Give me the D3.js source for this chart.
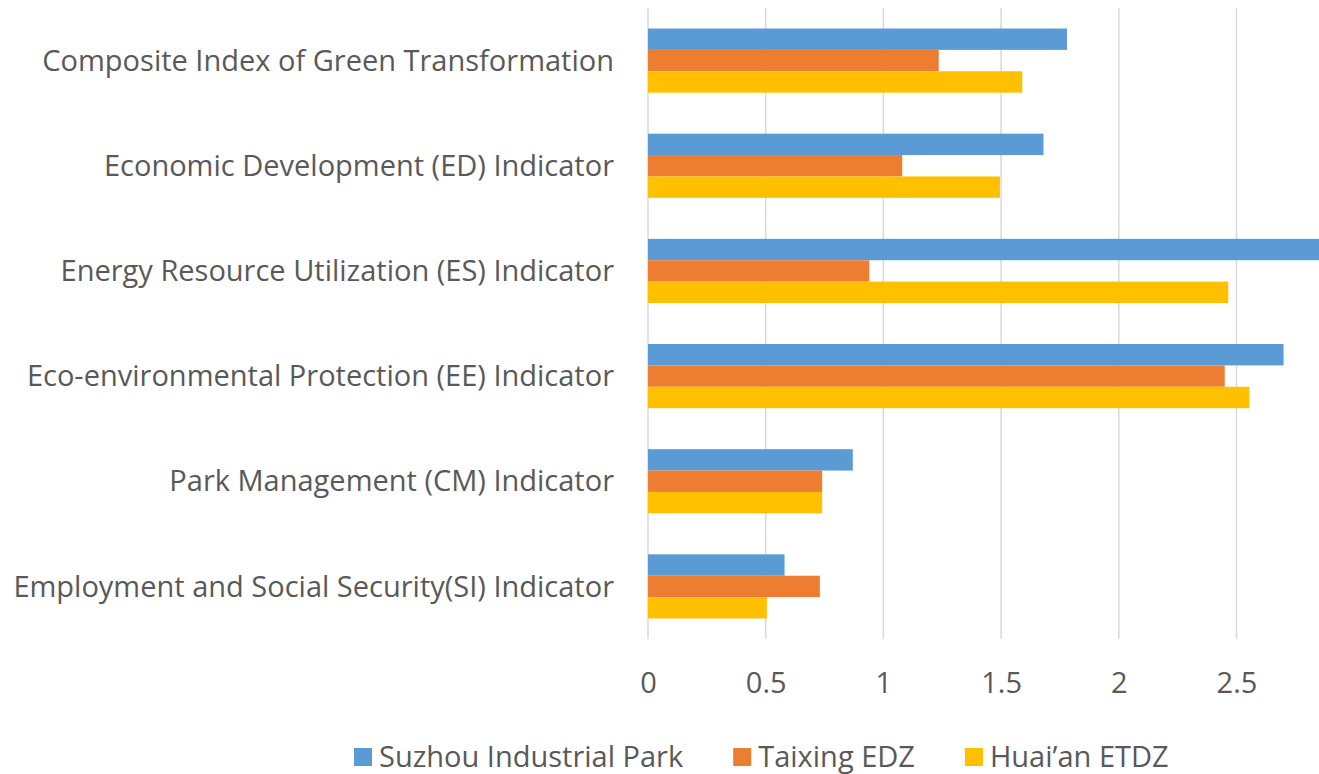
<html>
<head>
<meta charset="utf-8">
<script src="https://d3js.org/d3.v7.min.js"></script>
<style>
  body { margin: 0; background: #fff; }
  text { font-family: "Open Sans", "Noto Sans", sans-serif; fill: #595959; }
</style>
</head>
<body>
<div id="my_dataviz"></div>
<script>
// categories, top to bottom
const categories = [
  "Composite Index of Green Transformation",
  "Economic Development (ED) Indicator",
  "Energy Resource Utilization (ES) Indicator",
  "Eco-environmental Protection (EE) Indicator",
  "Park Management (CM) Indicator",
  "Employment and Social Security(SI) Indicator"
];
const seriesNames = ["Suzhou Industrial Park", "Taixing EDZ", "Huai\u2019an ETDZ"];
const suzhou  = [1.78, 1.68, 3.00, 2.70, 0.87, 0.58];
const taixing = [1.235, 1.08, 0.94, 2.45, 0.74, 0.73];
const huaian  = [1.59, 1.495, 2.465, 2.555, 0.74, 0.505];
const xTicks = [0, 0.5, 1, 1.5, 2, 2.5];
const colors = ["#5B9BD5", "#ED7D31", "#FFC000"];

const W = 1319, H = 774;
const margin = {top: 8, left: 648};
const plotH = 631;
const fontSize = "29px";

const svg = d3.select("#my_dataviz")
  .append("svg")
  .attr("width", W)
  .attr("height", H);

const x = d3.scaleLinear().domain([0, 1]).range([margin.left, margin.left + 235.4]);

const y = d3.scaleBand()
  .domain(categories)
  .range([margin.top, margin.top + plotH])
  .paddingInner(0.39)
  .paddingOuter(0.195);

const ySub = d3.scaleBand()
  .domain(seriesNames)
  .range([0, y.bandwidth()]);

// gridlines
svg.append("g")
  .selectAll("line")
  .data(xTicks)
  .join("line")
    .attr("x1", d => x(d)).attr("x2", d => x(d))
    .attr("y1", margin.top).attr("y2", margin.top + plotH)
    .style("stroke", "#D9D9D9")
    .style("stroke-width", 1.5);

// bars
const data = [];
categories.forEach((c, i) => {
  [suzhou, taixing, huaian].forEach((s, j) => {
    data.push({cat: c, series: seriesNames[j], value: s[i], color: colors[j]});
  });
});

svg.append("g")
  .selectAll("rect")
  .data(data)
  .join("rect")
    .attr("x", x(0))
    .attr("y", d => y(d.cat) + ySub(d.series))
    .attr("width", d => x(d.value) - x(0))
    .attr("height", ySub.bandwidth())
    .style("fill", d => d.color);

// category labels
svg.append("g")
  .selectAll("text")
  .data(categories)
  .join("text")
    .attr("x", 614)
    .attr("y", d => y(d) + y.bandwidth() / 2)
    .attr("dy", "0.35em")
    .attr("text-anchor", "end")
    .style("font-size", fontSize)
    .text(d => d);

// x axis labels
const xAxis = svg.append("g")
  .attr("transform", `translate(0, ${margin.top + plotH})`)
  .call(d3.axisBottom(x).tickValues(xTicks).tickSize(0).tickPadding(33).tickFormat(d3.format("")));
xAxis.select(".domain").remove();
xAxis.selectAll("text")
  .style("font-size", fontSize)
  .style("fill", "#595959")
  .style("font-family", "\"Open Sans\", \"Noto Sans\", sans-serif");

// legend - items laid out one after another
const legend = svg.append("g").attr("transform", "translate(0, 757)");
let lx = 354;
seriesNames.forEach((name, i) => {
  legend.append("rect")
    .attr("x", lx).attr("y", -9)
    .attr("width", 18).attr("height", 18)
    .style("fill", colors[i]);
  const t = legend.append("text")
    .attr("x", lx + 25)
    .attr("dy", "0.35em")
    .style("font-size", fontSize)
    .text(name);
  lx += 25 + t.node().getComputedTextLength() + 50;
});
</script>
</body>
</html>
